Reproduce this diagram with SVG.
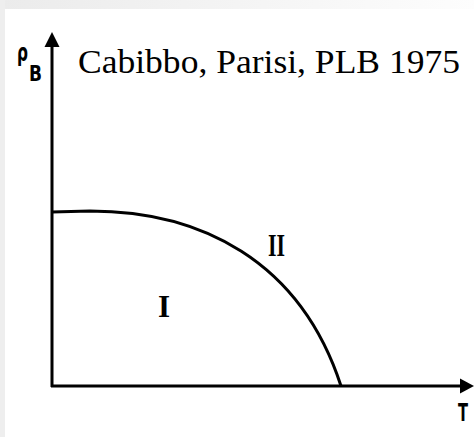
<svg xmlns="http://www.w3.org/2000/svg" width="474" height="437" viewBox="0 0 474 437">
  <defs>
    <linearGradient id="topband" x1="0" y1="0" x2="1" y2="0">
      <stop offset="0" stop-color="#ebebeb"/>
      <stop offset="1" stop-color="#fdfdfd"/>
    </linearGradient>
    <style>
      .ax { stroke: #000; stroke-width: 3; fill: none; }
      .head { fill: #000; }
      .lbl { font-family: "DejaVu Sans", "Liberation Sans", sans-serif; font-weight: bold; fill: #000; }
      .rn { font-family: "Liberation Serif", "DejaVu Serif", serif; font-weight: bold; fill: #000; }
      .title { font-family: "Liberation Serif", "DejaVu Serif", serif; fill: #000; }
    </style>
  </defs>
  <rect x="0" y="0" width="474" height="437" fill="#ffffff"/>
  <rect x="0" y="0" width="474" height="9" fill="url(#topband)"/>
  <rect x="0" y="0" width="5" height="437" fill="#eeeeee"/>

  <g id="connectors">
    <line class="ax" x1="52" y1="387" x2="52" y2="44"/>
    <polygon class="head" points="52,32 44.5,47 59.5,47"/>
    <line class="ax" x1="51" y1="386" x2="462" y2="386"/>
    <polygon class="head" points="474,386 460,378.5 460,393.5"/>
    <path id="boundary" class="ax" d="M52,212 L90,211 C200,211 300,260 341,386"/>
  </g>

  <g id="axis-y-label">
    <text class="lbl" x="17" y="61" font-size="25" textLength="11" lengthAdjust="spacingAndGlyphs">ρ</text>
    <text class="lbl" x="29" y="81" font-size="21" textLength="13" lengthAdjust="spacingAndGlyphs">B</text>
  </g>
  <g id="axis-x-label">
    <text class="lbl" x="458" y="421" font-size="24" font-weight="normal" textLength="10" lengthAdjust="spacingAndGlyphs">T</text>
  </g>
  <g id="title">
    <text class="title" x="78" y="73" font-size="34" textLength="382" lengthAdjust="spacingAndGlyphs">Cabibbo, Parisi, PLB 1975</text>
  </g>
  <g id="region-I">
    <text class="rn" x="158" y="317" font-size="31">I</text>
  </g>
  <g id="region-II">
    <text class="rn" x="268" y="256" font-size="31" textLength="17" lengthAdjust="spacingAndGlyphs">II</text>
  </g>
</svg>
